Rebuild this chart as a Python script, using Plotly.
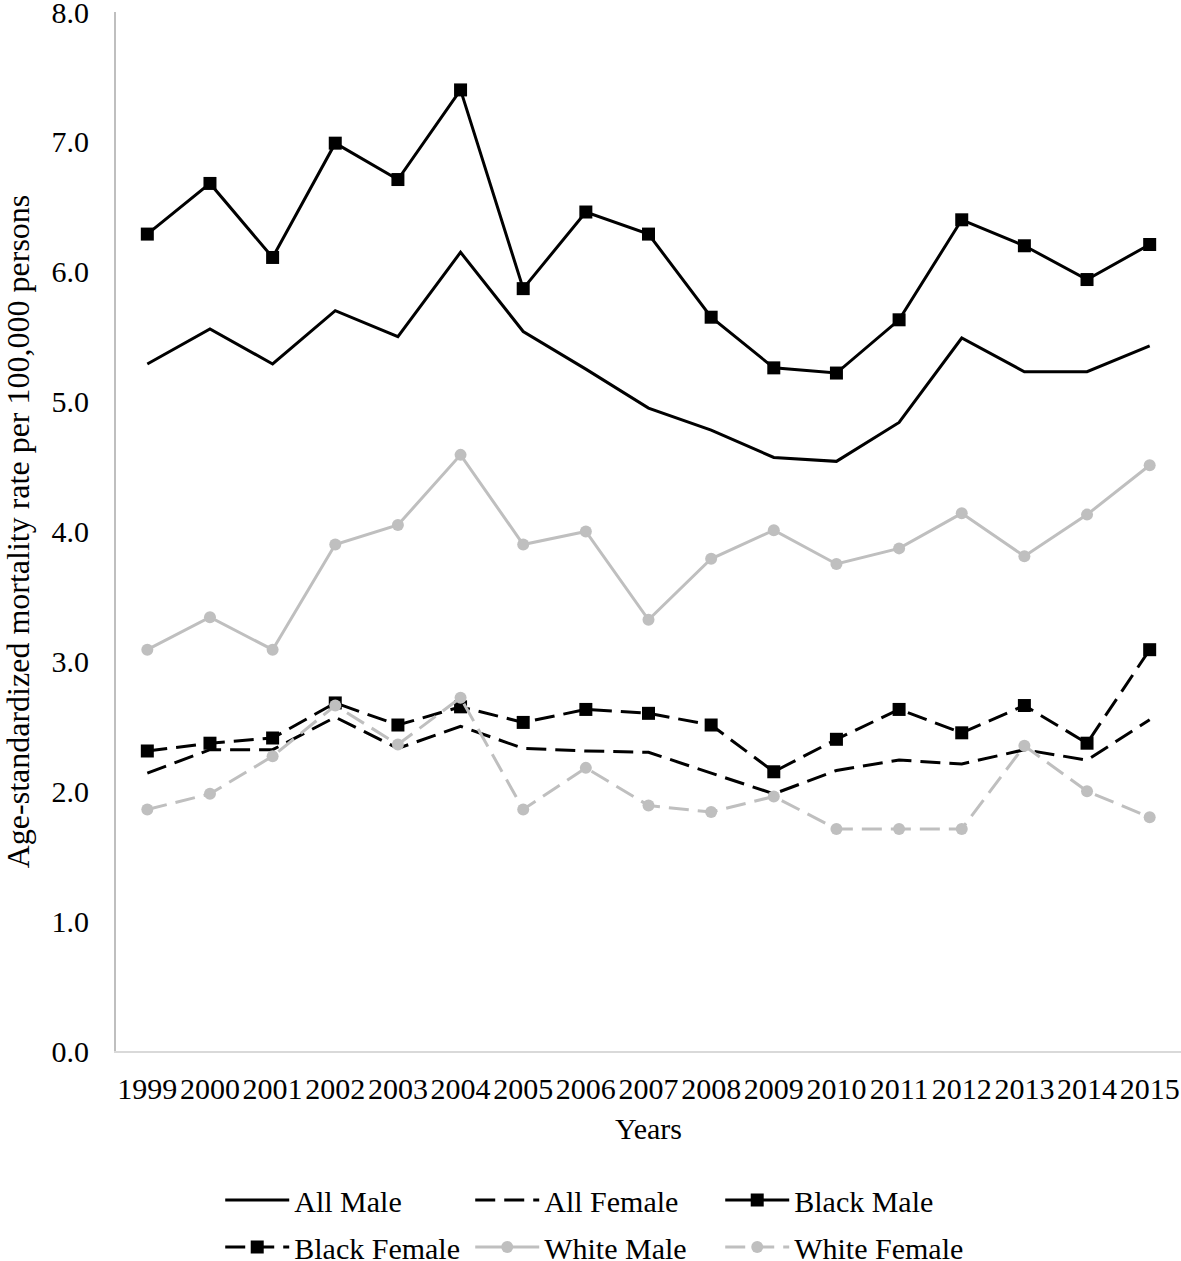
import plotly.graph_objects as go

years = ["1999", "2000", "2001", "2002", "2003", "2004", "2005", "2006", "2007",
         "2008", "2009", "2010", "2011", "2012", "2013", "2014", "2015"]

all_male = [5.29, 5.56, 5.29, 5.70, 5.50, 6.15, 5.54, 5.25, 4.95,
            4.78, 4.57, 4.54, 4.84, 5.49, 5.23, 5.23, 5.43]
all_female = [2.14, 2.32, 2.32, 2.57, 2.33, 2.50, 2.33, 2.31, 2.30,
              2.14, 1.98, 2.16, 2.24, 2.21, 2.32, 2.24, 2.55]
black_male = [6.29, 6.68, 6.11, 6.99, 6.71, 7.40, 5.87, 6.46, 6.29,
              5.65, 5.26, 5.22, 5.63, 6.40, 6.20, 5.94, 6.21]
black_female = [2.31, 2.37, 2.41, 2.68, 2.51, 2.65, 2.53, 2.63, 2.60,
                2.51, 2.15, 2.40, 2.63, 2.45, 2.66, 2.37, 3.09]
white_male = [3.09, 3.34, 3.09, 3.90, 4.05, 4.59, 3.90, 4.00, 3.32,
              3.79, 4.01, 3.75, 3.87, 4.14, 3.81, 4.13, 4.51]
white_female = [1.86, 1.98, 2.27, 2.66, 2.36, 2.72, 1.86, 2.18, 1.89,
                1.84, 1.96, 1.71, 1.71, 1.71, 2.35, 2.00, 1.80]

y_ticks = [0, 1, 2, 3, 4, 5, 6, 7, 8]
y_tick_labels = ["0.0", "1.0", "2.0", "3.0", "4.0", "5.0", "6.0", "7.0", "8.0"]

BLACK = "#000000"
GREY = "#BFBFBF"
DASH = "20px,9px"
FONT = "Liberation Serif, Times New Roman, serif"

fig = go.Figure()
fig.add_trace(go.Scatter(x=years, y=all_male, name="All Male", mode="lines",
                         line=dict(color=BLACK, width=3), legend="legend"))
fig.add_trace(go.Scatter(x=years, y=all_female, name="All Female", mode="lines",
                         line=dict(color=BLACK, width=3, dash=DASH), legend="legend"))
fig.add_trace(go.Scatter(x=years, y=black_male, name="Black Male", mode="lines+markers",
                         line=dict(color=BLACK, width=3),
                         marker=dict(symbol="square", size=13, color=BLACK), legend="legend"))
fig.add_trace(go.Scatter(x=years, y=black_female, name="Black Female", mode="lines+markers",
                         line=dict(color=BLACK, width=3, dash=DASH),
                         marker=dict(symbol="square", size=13, color=BLACK), legend="legend2"))
fig.add_trace(go.Scatter(x=years, y=white_male, name="White Male", mode="lines+markers",
                         line=dict(color=GREY, width=3),
                         marker=dict(symbol="circle", size=12, color=GREY), legend="legend2"))
fig.add_trace(go.Scatter(x=years, y=white_female, name="White Female", mode="lines+markers",
                         line=dict(color=GREY, width=3, dash=DASH),
                         marker=dict(symbol="circle", size=12, color=GREY), legend="legend2"))

legend_common = dict(orientation="h", xref="container", x=0.504, xanchor="center",
                     yref="container", yanchor="top", itemwidth=64, entrywidth=171,
                     font=dict(size=30), traceorder="normal")

fig.update_layout(
    width=1181, height=1261,
    margin=dict(l=116, r=0, t=12, b=210),
    paper_bgcolor="white", plot_bgcolor="white",
    font=dict(family=FONT, size=30, color="black"),
    showlegend=True,
    legend=dict(legend_common, y=0.0690),
    legend2=dict(legend_common, y=0.0318),
    xaxis=dict(type="category", range=[-0.5, 16.5], showgrid=False,
               showline=True, linecolor="#D9D9D9", linewidth=2,
               ticks="", ticklabelstandoff=10, automargin=False,
               ticklabeloverflow="allow",
               tickfont=dict(size=30),
               title=dict(text="Years", font=dict(size=30), standoff=14)),
    yaxis=dict(range=[0, 8], showgrid=False, zeroline=False,
               showline=True, linecolor="#BFBFBF", linewidth=2,
               tickvals=y_ticks, ticktext=y_tick_labels,
               ticks="", ticklabelstandoff=19, automargin=False,
               ticklabeloverflow="allow",
               tickfont=dict(size=30),
               title=dict(text="Age-standardized mortality rate per 100,000 persons",
                          font=dict(size=32), standoff=44)),
)

# remove the browser's default 8px page margin so the figure fills the window exactly
fig.write_html("out.html", config={"displayModeBar": False},
               post_script="document.body.style.margin='0';")
